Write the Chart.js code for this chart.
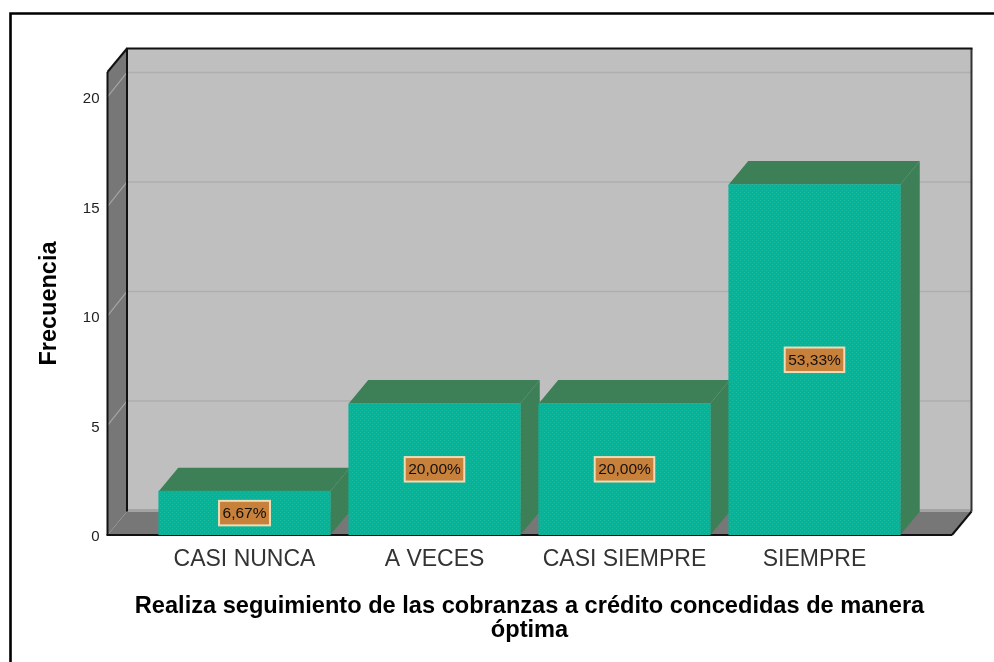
<!DOCTYPE html>
<html><head><meta charset="utf-8">
<style>html,body{margin:0;padding:0;background:#fff}#w{width:994px;height:662px;position:relative}</style>
<script src="https://cdn.jsdelivr.net/npm/chart.js@4"></script>
</head><body><div id="w"><canvas id="c" width="994" height="662"></canvas></div>
<script>
const categories = ['CASI NUNCA','A VECES','CASI SIEMPRE','SIEMPRE'];
const frecuencia = [2,6,6,16];
const porcentajes = ['6,67%','20,00%','20,00%','53,33%'];
const yTitle = 'Frecuencia';
const xTitle = ['Realiza seguimiento de las cobranzas a crédito concedidas de manera','óptima'];
const FONT = '"Liberation Sans", Arial, sans-serif';

function makePattern(){
  const p=document.createElement('canvas');p.width=4;p.height=4;
  const g=p.getContext('2d');g.fillStyle='#00b5a0';g.fillRect(0,0,4,4);
  g.fillStyle='#1fb898';g.fillRect(0,0,1,1);g.fillRect(2,2,1,1);
  return document.getElementById('c').getContext('2d').createPattern(p,'repeat');
}
function poly(ctx,pts,fill,stroke,lw){
  ctx.beginPath();pts.forEach((q,i)=>i?ctx.lineTo(q[0],q[1]):ctx.moveTo(q[0],q[1]));ctx.closePath();
  if(fill){ctx.fillStyle=fill;ctx.fill();}
  if(stroke){ctx.strokeStyle=stroke;ctx.lineWidth=lw||1;ctx.stroke();}
}
function line(ctx,a,b,c,d,col,lw){ctx.beginPath();ctx.moveTo(a,b);ctx.lineTo(c,d);ctx.strokeStyle=col;ctx.lineWidth=lw||1;ctx.stroke();}
const DX=19.5, DY=23.5;
const room={
  id:'room',
  beforeDraw(ch){
    const ctx=ch.ctx;ctx.save();
    ctx.fillStyle='#fff';ctx.fillRect(0,0,994,662);
    ctx.strokeStyle='#000';ctx.lineWidth=2.6;
    ctx.beginPath();ctx.moveTo(10.5,662);ctx.lineTo(10.5,13.5);ctx.lineTo(994,13.5);ctx.stroke();
    const x=ch.scales.x,y=ch.scales.y;
    const L=x.left-42,R=x.right+42.5,B=y.bottom,T=y.top;
    poly(ctx,[[L+DX,T-DY],[R+DX,T-DY],[R+DX,B-DY],[L+DX,B-DY]],'#bfbfbf');
    poly(ctx,[[L,T],[L+DX,T-DY],[L+DX,B-DY],[L,B]],'#777777');
    poly(ctx,[[L,B],[L+DX,B-DY],[R+DX,B-DY],[R,B]],'#777777');
    line(ctx,L+DX,B-DY-1,R+DX,B-DY-1,'#a3a3a3',3);
    y.ticks.forEach(t=>{
      if(t.value===0)return;
      const py=y.getPixelForValue(t.value);
      line(ctx,L,py,L+DX,py-DY-1,'#a4a4a4',1.2);
      line(ctx,L+DX,py-DY-1,R+DX,py-DY-1,'#aeaeae',1.5);
    });
    line(ctx,L+DX,T-DY,L+DX,B-DY,'#111',2);
    line(ctx,R+DX,T-DY,R+DX,B-DY,'#333',2);
    line(ctx,L+DX-1,T-DY,R+DX+1,T-DY,'#111',2);
    line(ctx,L,T,L+DX,T-DY,'#111',2);
    line(ctx,L,T,L,B,'#111',2);
    line(ctx,L-1,B,R,B,'#111',2);
    line(ctx,R,B,R+DX,B-DY,'#111',2);
    ctx.restore();
  },
  beforeDatasetsDraw(ch){
    const ctx=ch.ctx;ctx.save();
    ch.getDatasetMeta(0).data.forEach(b=>{
      const w=b.width/2,l=b.x-w,r=b.x+w,t=b.y,bo=b.base;
      const col='#3d7f56';
      poly(ctx,[[l,t],[l+DX,t-DY],[r+DX,t-DY],[r,t]],col);
      poly(ctx,[[r,t],[r+DX,t-DY],[r+DX,bo-DY],[r,bo]],col);
    });
    ctx.restore();
  },
  afterDatasetsDraw(ch){
    const ctx=ch.ctx;ctx.save();
    ctx.font='15.5px '+FONT;ctx.textAlign='center';ctx.textBaseline='middle';
    ch.getDatasetMeta(0).data.forEach((b,i)=>{
      const s=porcentajes[i],tw=ctx.measureText(s).width,bw=tw+7,bh=24.5;
      const cy=(b.y+b.base)/2;
      ctx.fillStyle='#c8813a';ctx.strokeStyle='#ecdcb8';ctx.lineWidth=2;
      ctx.fillRect(b.x-bw/2,cy-bh/2,bw,bh);ctx.strokeRect(b.x-bw/2,cy-bh/2,bw,bh);
      ctx.fillStyle='#111';ctx.fillText(s,b.x,cy+0.5);
    });
    ctx.restore();
  }
};
new Chart(document.getElementById('c'),{
  type:'bar',
  data:{labels:categories,datasets:[{data:frecuencia,backgroundColor:makePattern(),borderWidth:0,barThickness:171.5}]},
  plugins:[room],
  options:{
    responsive:false,animation:false,
    layout:{padding:{top:72,right:84.5,left:0,bottom:0}},
    plugins:{legend:{display:false},tooltip:{enabled:false},title:{display:false}},
    scales:{
      x:{offset:true,grid:{display:false,drawTicks:false},border:{display:false},
        ticks:{color:'#333',font:{family:FONT,size:23},padding:11,maxRotation:0,autoSkip:false},
        title:{display:true,text:xTitle,color:'#000',font:{family:FONT,size:23.6,weight:'bold',lineHeight:1},padding:{top:0,bottom:20}},
        afterFit(s){
          s.height=127;
          if(!s._wideTitle){
            const o=s.drawTitle;
            s.drawTitle=function(){const l=this.left,r=this.right;this.left=l-80;this.right=r+80;o.call(this);this.left=l;this.right=r;};
            s._wideTitle=true;
          }
        }},
      y:{min:0,max:21.14,grid:{display:false,drawTicks:false},border:{display:false},
        ticks:{stepSize:5,includeBounds:false,color:'#222',font:{family:FONT,size:15,lineHeight:0.27},padding:50,
          callback(v){return ['',String(v)];}},
        title:{display:true,text:yTitle,color:'#000',font:{family:FONT,size:23.5,weight:'bold'},padding:{top:35,bottom:0}},
        afterFit(s){s.width=149.5;}}
    }
  }
});
</script></body></html>
